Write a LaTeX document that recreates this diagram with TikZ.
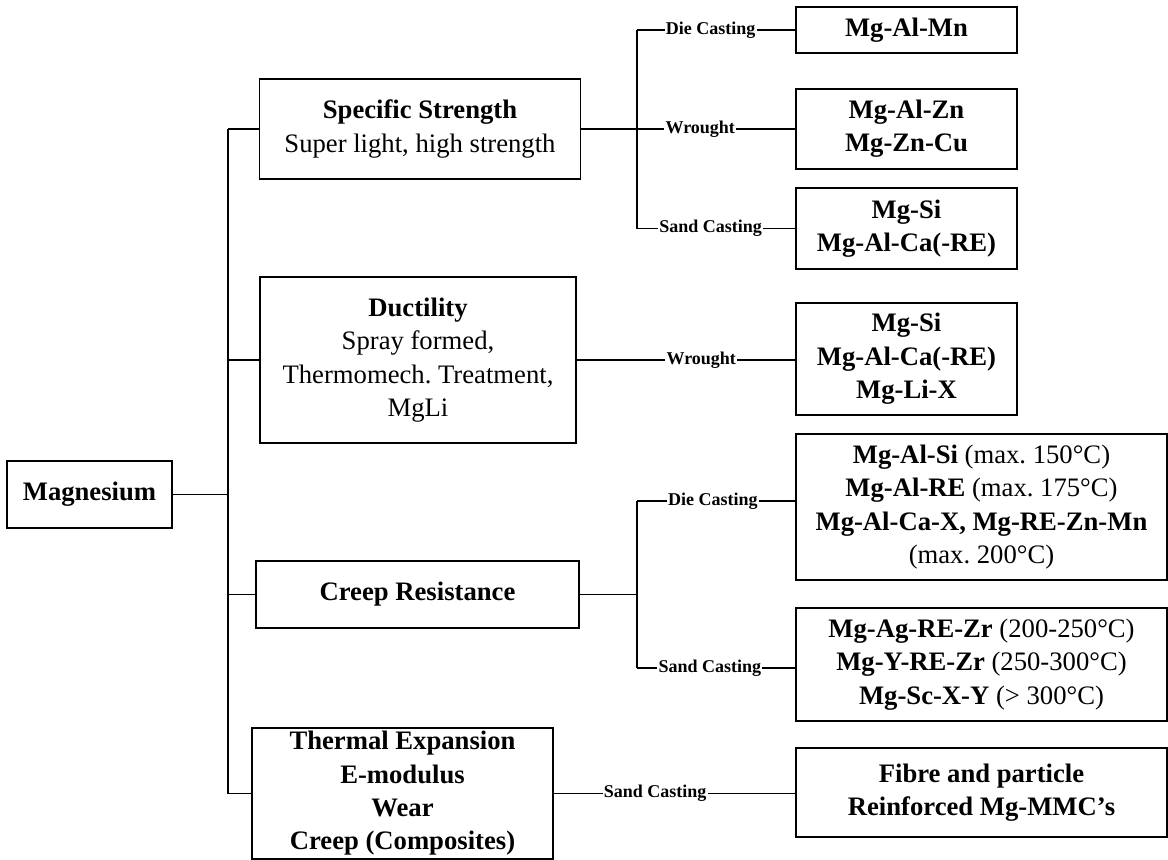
\documentclass[tikz,border=0pt]{standalone}
\usepackage{fontspec}
\setmainfont{Liberation Serif}
\usepackage{tikz}
\frenchspacing

\begin{document}
\begin{tikzpicture}[x=0.75pt,y=-0.75pt,
    box/.style={draw,line width=1.1pt,align=center,inner sep=0pt,font=\fontsize{20}{25}\selectfont},
    sz/.style 2 args={minimum width=#1*0.75pt,minimum height=#2*0.75pt},
    link/.style={line width=0.8pt},
    lbl/.style={fill=white,inner sep=1pt,font=\fontsize{13.5}{15}\selectfont\bfseries}]
    \useasboundingbox (0,0) rectangle (1168,860);

    % Root and properties
    \node[box,sz={165}{67}] (mag) at (89.5,494.5) {\textbf{Magnesium}};
    \node[box,sz={321}{100}] (ss) at (420,129) {\textbf{Specific Strength}\\Super light, high strength};
    \node[box,sz={316}{166}] (duc) at (418,360) {\textbf{Ductility}\\Spray formed,\\Thermomech. Treatment,\\MgLi};
    \node[box,sz={323}{67}] (cr) at (417.5,594.5) {\textbf{Creep Resistance}};
    \node[box,sz={301}{131},font=\fontsize{20}{25}\selectfont\bfseries] (te) at (402.5,793.5) {Thermal Expansion\\E-modulus\\Wear\\Creep (Composites)};

    % Alloys
    \node[box,sz={221}{46}] (mn) at (906.5,30) {\textbf{Mg-Al-Mn}};
    \node[box,sz={221}{80}] (zn) at (906.5,129) {\textbf{Mg-Al-Zn}\\\textbf{Mg-Zn-Cu}};
    \node[box,sz={221}{81}] (si1) at (906.5,228.5) {\textbf{Mg-Si}\\\textbf{Mg-Al-Ca(-RE)}};
    \node[box,sz={221}{112}] (si2) at (906.5,359) {\textbf{Mg-Si}\\\textbf{Mg-Al-Ca(-RE)}\\\textbf{Mg-Li-X}};
    \node[box,sz={371}{146}] (alsi) at (981.5,507) {\textbf{Mg-Al-Si} (max. 150°C)\\\textbf{Mg-Al-RE} (max. 175°C)\\\textbf{Mg-Al-Ca-X, Mg-RE-Zn-Mn}\\(max. 200°C)};
    \node[box,sz={371}{113}] (agre) at (981.5,664.5) {\textbf{Mg-Ag-RE-Zr} (200-250°C)\\\textbf{Mg-Y-RE-Zr} (250-300°C)\\\textbf{Mg-Sc-X-Y} (> 300°C)};
    \node[box,sz={371}{89}] (mmc) at (981.5,792.5) {\textbf{Fibre and particle}\\\textbf{Reinforced Mg-MMC’s}};

    % Trunk
    \coordinate (j0) at (228,494.5);
    \draw[link] (mag.east) -- (j0);
    \draw[link] (j0 |- ss.west) -- (j0 |- te.west);
    \foreach \n in {ss,duc,cr,te}
        \draw[link] (j0 |- \n.west) -- (\n.west);

    % Specific strength branches
    \coordinate (j1) at (637,129);
    \draw[link] (ss.east) -- (j1);
    \draw[link] (j1 |- mn.west) -- (j1 |- si1.west);
    \draw[link] (j1 |- mn.west) -- node[lbl,pos=.465] {Die Casting} (mn.west);
    \draw[link] (j1) -- node[lbl,pos=.40] {Wrought} (zn.west);
    \draw[link] (j1 |- si1.west) -- node[lbl,pos=.465] {Sand Casting} (si1.west);

    % Ductility branch
    \draw[link] (duc.east) -- node[lbl,pos=.57] {Wrought} (duc.east -| si2.west);

    % Creep resistance branches
    \coordinate (r1) at (637,501);
    \coordinate (r2) at (637,668);
    \draw[link] (cr.east) -- (cr.east -| r1);
    \draw[link] (r1) -- (r2);
    \draw[link] (r1) -- node[lbl,pos=.48] {Die Casting} (r1 -| alsi.west);
    \draw[link] (r2) -- node[lbl,pos=.46] {Sand Casting} (r2 -| agre.west);

    % Thermal branch
    \draw[link] (te.east) -- node[lbl,pos=.42] {Sand Casting} (te.east -| mmc.west);
\end{tikzpicture}
\end{document}
